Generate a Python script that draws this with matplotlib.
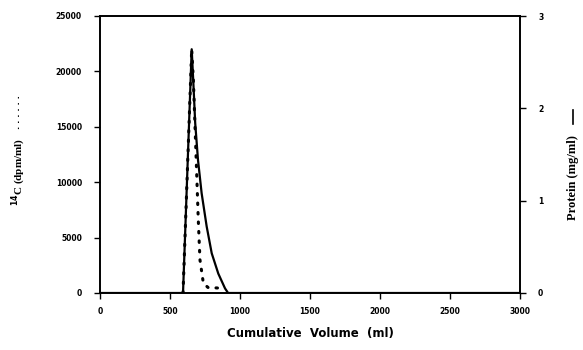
import matplotlib
matplotlib.use("Agg")
import matplotlib.pyplot as plt

# Data
protein_volume = [0, 593, 655, 667, 680, 700, 726, 762, 798, 845, 893, 915, 3000]
protein_mg = [0, 0, 2.64, 2.27, 1.84, 1.44, 1.08, 0.72, 0.43, 0.21, 0.05, 0, 0]

c14_volume = [593, 655, 667, 690, 702, 714, 738, 771, 843, 870]
c14_dpm = [0, 22000, 19200, 11000, 6600, 3000, 900, 500, 450, 0]

x_ticks = [0, 500, 1000, 1500, 2000, 2500, 3000]
left_ticks = [0, 5000, 10000, 15000, 20000, 25000]
right_ticks = [0, 1, 2, 3]

fig = plt.figure(figsize=(5.83, 3.5), dpi=100)
ax = fig.add_axes([100/583, 1-293/350, 420/583, 277/350])
ax2 = ax.twinx()

tickfont = dict(family="DejaVu Sans", weight="bold", size=5.5)

ax.plot(c14_volume, c14_dpm, color="black", linewidth=2.2,
        linestyle=(0, (0.5, 2.6)), dash_capstyle="round")
ax2.plot(protein_volume, protein_mg, color="black", linewidth=1.6)

ax.set_xlim(0, 3000)
ax.set_ylim(0, 25000)
ax2.set_ylim(0, 3)
ax.set_xticks(x_ticks)
ax.set_yticks(left_ticks)
ax2.set_yticks(right_ticks)
ax.set_xticklabels([str(v) for v in x_ticks], fontdict=tickfont)
ax.set_yticklabels([str(v) for v in left_ticks], fontdict=tickfont)
ax2.set_yticklabels([str(v) for v in right_ticks], fontdict=tickfont)

for a in (ax, ax2):
    for s in a.spines.values():
        s.set_linewidth(1.2)
    a.tick_params(direction="out", length=4, width=1.0, pad=9)
ax.tick_params(axis="x", pad=6)

ax.set_xlabel("Cumulative  Volume  (ml)", fontsize=8.5,
              fontweight="bold", family="DejaVu Sans", labelpad=8)

fig.text(19/583, 1-172/350, r"$^{\mathbf{14}}$C (dpm/ml)", rotation=90,
         ha="center", va="center", fontsize=8, fontweight="bold",
         family="Liberation Serif")
fig.text(18/583, 1-112/350, ". . . . . .", rotation=90, ha="center", va="center",
         fontsize=6, fontweight="bold", family="DejaVu Sans")

fig.text(573/583, 1-178/350, "Protein (mg/ml)", rotation=90,
         ha="center", va="center", fontsize=9, fontweight="bold",
         family="Liberation Serif")
fig.add_artist(plt.Line2D([573/583, 573/583], [1-124/350, 1-110/350],
                          transform=fig.transFigure, color="black", linewidth=1.2))

fig.savefig("out.png", dpi=100)
